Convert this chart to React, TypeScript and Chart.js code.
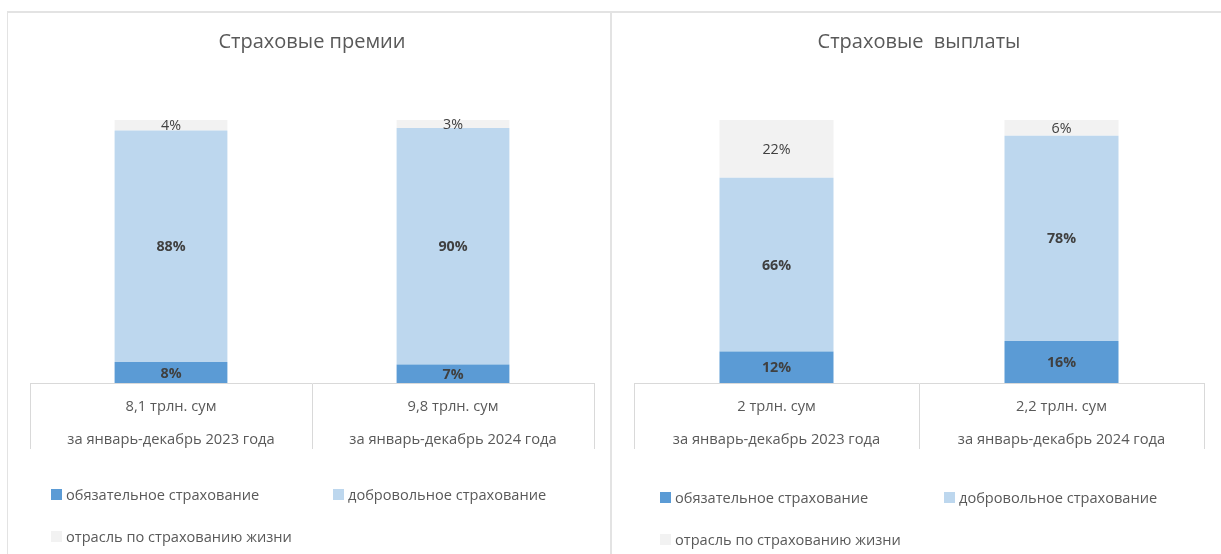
import React, { useEffect, useRef } from "react";
import { Chart, registerables } from "chart.js";

Chart.register(...registerables);

// ---- data ----
const seriesNames = [
  "обязательное страхование",
  "добровольное страхование",
  "отрасль по страхованию жизни",
];
const seriesColors = ["#5B9BD5", "#BDD7EE", "#F2F2F2"];

const premiumsTitle = "Страховые премии";
const premiumsCategories = [
  ["8,1 трлн. сум", "за январь-декабрь 2023 года"],
  ["9,8 трлн. сум", "за январь-декабрь 2024 года"],
];
const premiumsMandatory = [8, 7];
const premiumsVoluntary = [88, 90];
const premiumsLife = [4, 3];

const payoutsTitle = "Страховые  выплаты";
const payoutsCategories = [
  ["2 трлн. сум", "за январь-декабрь 2023 года"],
  ["2,2 трлн. сум", "за январь-декабрь 2024 года"],
];
const payoutsMandatory = [12, 16];
const payoutsVoluntary = [66, 78];
const payoutsLife = [22, 6];

const FONT = "'Open Sans', 'Noto Sans', sans-serif";

const valueLabels = {
  id: "valueLabels",
  afterDatasetsDraw(chart: any) {
    const ctx = chart.ctx;
    ctx.save();
    ctx.textAlign = "center";
    ctx.textBaseline = "middle";
    ctx.fillStyle = "#404040";
    chart.data.datasets.forEach((ds: any, di: number) => {
      const meta = chart.getDatasetMeta(di);
      ctx.font = (di < 2 ? "bold " : "") + "14.3px " + FONT;
      meta.data.forEach((bar: any, i: number) => {
        const { x, y, base } = bar.getProps(["x", "y", "base"], true);
        ctx.fillText(ds.data[i] + "%", x, (y + base) / 2 + 1);
      });
    });
    ctx.restore();
  },
};

type PanelProps = {
  title: string;
  categories: string[][];
  mandatory: number[];
  voluntary: number[];
  life: number[];
  width: number;
  padRight: number;
};

function StackedPanel(p: PanelProps) {
  const ref = useRef<HTMLCanvasElement>(null);
  useEffect(() => {
    if (!ref.current) return;
    const chart = new Chart(ref.current, {
      type: "bar",
      data: {
        labels: p.categories,
        datasets: [
          { label: seriesNames[0], data: p.mandatory, backgroundColor: seriesColors[0] },
          { label: seriesNames[1], data: p.voluntary, backgroundColor: seriesColors[1] },
          { label: seriesNames[2], data: p.life, backgroundColor: seriesColors[2] },
        ].map((d) => ({ ...d, barPercentage: 0.4, categoryPercentage: 1, borderWidth: 0 })),
      },
      options: {
        responsive: false,
        animation: false,
        devicePixelRatio: 1,
        layout: { padding: { left: 22, right: p.padRight, top: 0, bottom: 104 } },
        plugins: {
          legend: { display: false },
          tooltip: { enabled: false },
          title: {
            display: true,
            text: p.title,
            color: "#595959",
            font: { family: FONT, size: 20, weight: "normal", lineHeight: 1.2 },
            padding: { top: 18, bottom: 66 },
          },
        },
        scales: {
          x: {
            stacked: true,
            border: { display: true, color: "#D9D9D9", width: 1 },
            grid: {
              offset: true,
              drawOnChartArea: false,
              drawTicks: true,
              tickLength: 66,
              color: "#D9D9D9",
            },
            ticks: {
              color: "#595959",
              font: { family: FONT, size: 14.7, lineHeight: 2.245 },
              padding: -58.5,
              maxRotation: 0,
              autoSkip: false,
            },
            afterFit: (scale: any) => {
              scale.height = 67;
            },
          },
          y: { stacked: true, display: false, min: 0, max: 100 },
        },
      },
      plugins: [valueLabels],
    });
    return () => chart.destroy();
  }, []);
  return <canvas ref={ref} width={p.width} height={542} style={{ display: "block" }} />;
}

function LegendItem({ x, y, color, text }: { x: number; y: number; color: string; text: string }) {
  return (
    <div
      style={{
        position: "absolute",
        left: x,
        top: y - 10,
        height: 20,
        display: "flex",
        alignItems: "center",
        whiteSpace: "nowrap",
        font: "14.6px " + FONT,
        color: "#595959",
      }}
    >
      <span style={{ width: 11, height: 11, background: color, display: "inline-block", marginRight: 4 }} />
      {text}
    </div>
  );
}

export default function App() {
  return (
    <div
      style={{
        position: "absolute",
        left: 0,
        top: 0,
        width: 1221,
        height: 554,
        overflow: "hidden",
        background: "#fff",
      }}
    >
      {/* panel borders */}
      <div style={{ position: "absolute", left: 7, top: 11, width: 1214, height: 2, background: "#E3E3E3" }} />
      <div style={{ position: "absolute", left: 7, top: 11, width: 1, height: 543, background: "#E3E3E3" }} />
      <div style={{ position: "absolute", left: 610, top: 11, width: 2, height: 543, background: "#E3E3E3" }} />

      <div style={{ position: "absolute", left: 8, top: 12 }}>
        <StackedPanel
          title={premiumsTitle}
          categories={premiumsCategories}
          mandatory={premiumsMandatory}
          voluntary={premiumsVoluntary}
          life={premiumsLife}
          width={602}
          padRight={16}
        />
      </div>
      <div style={{ position: "absolute", left: 612, top: 12 }}>
        <StackedPanel
          title={payoutsTitle}
          categories={payoutsCategories}
          mandatory={payoutsMandatory}
          voluntary={payoutsVoluntary}
          life={payoutsLife}
          width={609}
          padRight={17}
        />
      </div>

      <LegendItem x={51} y={494} color={seriesColors[0]} text={seriesNames[0]} />
      <LegendItem x={333} y={494} color={seriesColors[1]} text={seriesNames[1]} />
      <LegendItem x={51} y={536} color={seriesColors[2]} text={seriesNames[2]} />

      <LegendItem x={660} y={497} color={seriesColors[0]} text={seriesNames[0]} />
      <LegendItem x={944} y={497} color={seriesColors[1]} text={seriesNames[1]} />
      <LegendItem x={660} y={539} color={seriesColors[2]} text={seriesNames[2]} />
    </div>
  );
}
